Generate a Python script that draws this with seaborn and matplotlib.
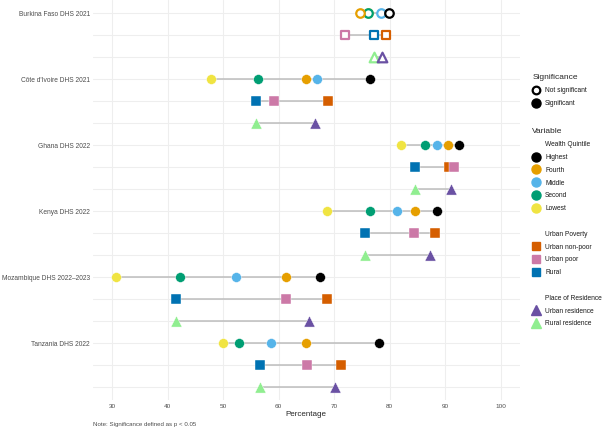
import numpy as np
import pandas as pd
import seaborn as sns
import matplotlib
matplotlib.use("Agg")
import matplotlib.pyplot as plt
from matplotlib.lines import Line2D

# ---- data ----
countries = ["Burkina Faso DHS 2021", "Côte d'Ivoire DHS 2021", "Ghana DHS 2022",
             "Kenya DHS 2022", "Mozambique DHS 2022\u20132023", "Tanzania DHS 2022"]
significant = [False, True, True, True, True, True]

wealth_lowest = [76.1, 47.8, 82.0, 68.7, 30.7, 49.9]
wealth_second = [76.1, 56.2, 86.3, 76.4, 42.3, 52.9]
wealth_middle = [78.4, 67.0, 88.6, 81.4, 52.3, 58.6]
wealth_fourth = [74.6, 65.0, 90.5, 84.6, 61.3, 64.9]
wealth_highest = [79.9, 76.4, 92.5, 88.5, 67.4, 78.1]

pov_rural = [77.2, 55.9, 84.5, 75.5, 41.5, 56.6]
pov_nonpoor = [79.4, 68.9, 90.7, 88.2, 68.7, 71.3]
pov_poor = [71.9, 59.2, 91.6, 84.4, 61.3, 65.1]

res_rural = [77.2, 55.9, 84.5, 75.5, 41.5, 56.6]
res_urban = [78.7, 66.5, 91.1, 87.2, 65.5, 70.2]

# (label, values, group row offset, colour, marker) in drawing order
series = [
    ("Lowest", wealth_lowest, 0, "#F0E442", "o"),
    ("Second", wealth_second, 0, "#009E73", "o"),
    ("Middle", wealth_middle, 0, "#56B4E9", "o"),
    ("Fourth", wealth_fourth, 0, "#E69F00", "o"),
    ("Highest", wealth_highest, 0, "#000000", "o"),
    ("Rural", pov_rural, 1, "#0072B2", "s"),
    ("Urban non-poor", pov_nonpoor, 1, "#D55E00", "s"),
    ("Urban poor", pov_poor, 1, "#CC79A7", "s"),
    ("Rural residence", res_rural, 2, "#90EE90", "^"),
    ("Urban residence", res_urban, 2, "#6A51A3", "^"),
]

rows = []
for name, vals, off, col, mk in series:
    for i, v in enumerate(vals):
        rows.append({"country": countries[i], "variable": name, "row": i * 3 + off,
                     "value": v, "sig": significant[i]})
df = pd.DataFrame(rows)

sns.set_theme(style="whitegrid")
plt.rcParams["font.family"] = ["Liberation Sans", "DejaVu Sans"]

fig = plt.figure(figsize=(6.07, 4.32), dpi=100)
ax = fig.add_axes([0.1527, 0.0736, 0.704, 0.9264])

# connecting segments
seg = df.groupby("row")["value"].agg(["min", "max"]).reset_index()
ax.hlines(seg["row"], seg["min"], seg["max"], color="#BDBDBD", linewidth=1.1, zorder=1)

sizes = {"o": 50, "s": 46, "^": 64}
for name, vals, off, col, mk in series:
    sub = df[df["variable"] == name]
    filled = sub[sub["sig"]]
    hollow = sub[~sub["sig"]]
    sns.scatterplot(data=filled, x="value", y="row", color=col, marker=mk,
                    s=sizes[mk], edgecolor="white", linewidth=0.3, ax=ax,
                    legend=False, zorder=3)
    ax.scatter(hollow["value"], hollow["row"], s=sizes[mk] * 0.75, marker=mk,
               facecolor="white", edgecolor=col, linewidth=1.6, zorder=3)

ax.set_xlim(26.5, 103.5)
ax.set_ylim(17.6, -0.6)
ax.set_xticks(np.arange(30, 101, 10))
ax.set_yticks(np.arange(0, 18, 3))
ax.set_yticklabels(countries)
ax.set_yticks(np.arange(18), minor=True)
ax.grid(True, which="major", color="#EEEEEE", linewidth=0.8)
ax.grid(True, which="minor", axis="y", color="#EEEEEE", linewidth=0.8)
ax.tick_params(axis="y", which="both", length=0, labelsize=4.8, colors="#4D4D4D", pad=2)
ax.tick_params(axis="x", length=0, labelsize=4.6, colors="#4D4D4D", pad=3)
for sp in ax.spines.values():
    sp.set_visible(False)
ax.set_xlabel("Percentage", fontsize=5.8, labelpad=1)
ax.set_ylabel("")

fig.text(0.1527, 0.012, "Note: Significance defined as p < 0.05", fontsize=4.4,
         color="#4D4D4D", ha="left", va="bottom")

# legends
def mk_handle(marker, color, filled=True, size=5.5):
    if filled:
        return Line2D([], [], linestyle="none", marker=marker, markersize=size,
                      markerfacecolor=color, markeredgecolor=color)
    return Line2D([], [], linestyle="none", marker=marker, markersize=size - 1,
                  markerfacecolor="white", markeredgecolor=color, markeredgewidth=1.6)

blank = Line2D([], [], linestyle="none", marker=None)

sig_handles = [mk_handle("o", "black", False, 6.5), mk_handle("o", "black", True, 6.5)]
leg1 = fig.legend(sig_handles, ["Not significant", "Significant"], title="Significance",
                  loc="upper left", bbox_to_anchor=(0.877, 0.828), frameon=False,
                  fontsize=4.8, title_fontsize=6, alignment="left",
                  handlelength=1.0, handletextpad=0.9, labelspacing=0.9,
                  borderaxespad=0, borderpad=0)

var_handles = [blank]
var_labels = ["Wealth Quintile"]
for name in ["Highest", "Fourth", "Middle", "Second", "Lowest"]:
    s = [x for x in series if x[0] == name][0]
    var_handles.append(mk_handle(s[4], s[3], size=6.5))
    var_labels.append(name)
var_handles += [blank, blank]
var_labels += ["", "Urban Poverty"]
for name in ["Urban non-poor", "Urban poor", "Rural"]:
    s = [x for x in series if x[0] == name][0]
    var_handles.append(mk_handle(s[4], s[3], size=6.0))
    var_labels.append(name)
var_handles += [blank, blank]
var_labels += ["", "Place of Residence"]
for name in ["Urban residence", "Rural residence"]:
    s = [x for x in series if x[0] == name][0]
    var_handles.append(mk_handle(s[4], s[3], size=7.0))
    var_labels.append(name)

leg2 = fig.legend(var_handles, var_labels, title="Variable",
                  loc="upper left", bbox_to_anchor=(0.877, 0.703), frameon=False,
                  fontsize=4.8, title_fontsize=6, alignment="left",
                  handlelength=1.0, handletextpad=0.9, labelspacing=0.87,
                  borderaxespad=0, borderpad=0)
for leg in (leg1, leg2):
    for t in leg.get_texts():
        t.set_color("#1A1A1A")

fig.savefig("out.png", dpi=100)
